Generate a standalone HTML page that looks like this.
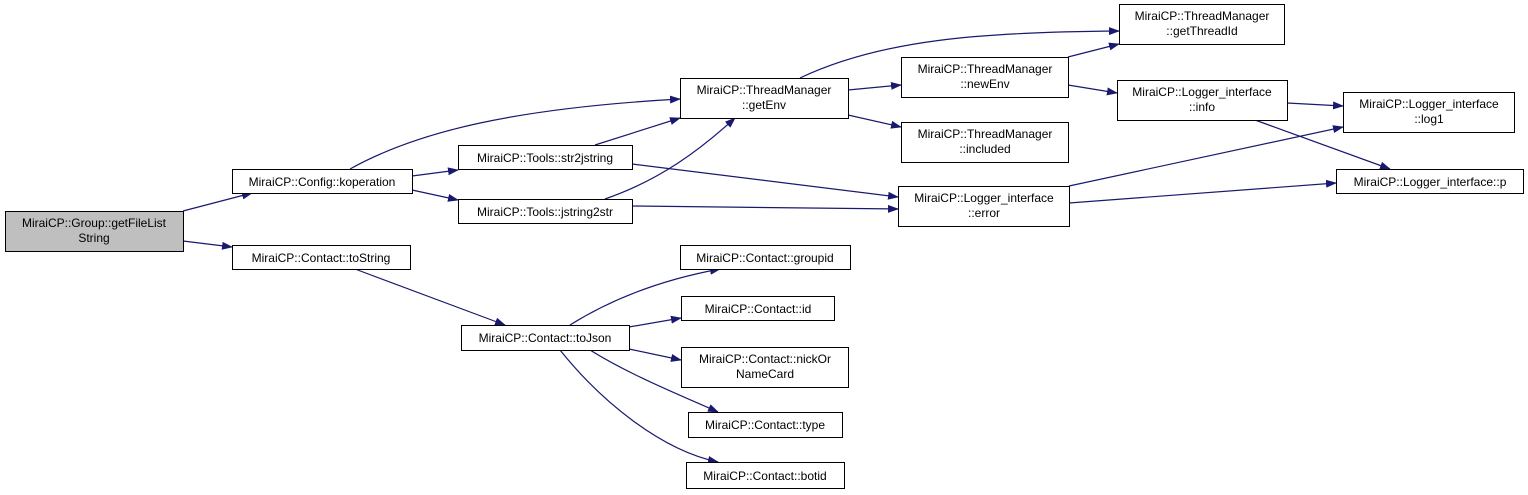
<!DOCTYPE html>
<html><head><meta charset="utf-8"><style>
html,body{margin:0;padding:0;background:#fff;}
svg{display:block;}
text{font-family:"Liberation Sans",Arial,sans-serif;font-size:12px;fill:#000;}
</style></head><body>
<svg width="1528" height="495" viewBox="0 0 1528 495" xmlns="http://www.w3.org/2000/svg">
<defs>
<marker id="a" markerWidth="11" markerHeight="8" refX="10" refY="4" orient="auto" markerUnits="userSpaceOnUse">
<polygon points="0,0 11,4 0,8" fill="#191970"/>
</marker>
</defs>
<g fill="none" stroke="#191970" stroke-width="1.2" marker-end="url(#a)">
<path d="M183,211 L252,193"/>
<path d="M183,241 L232,247"/>
<path d="M412,176 L458,170"/>
<path d="M412,190 L458,200"/>
<path d="M350,169 C420,130 520,108 680,99"/>
<path d="M595,145 L680,118"/>
<path d="M605,199 C660,180 700,150 735,118"/>
<path d="M632,164 L898,197"/>
<path d="M632,206 L898,209"/>
<path d="M848,90 L901,85"/>
<path d="M848,115 L901,127"/>
<path d="M800,78 C880,40 980,32 1119,31"/>
<path d="M1068,57 L1119,44"/>
<path d="M1068,85 L1117,93"/>
<path d="M1287,103 L1343,106"/>
<path d="M1255,120 L1390,169"/>
<path d="M1069,186 L1343,127"/>
<path d="M1069,203 L1336,183"/>
<path d="M355,269 L505,325"/>
<path d="M570,325 C610,300 660,280 720,269"/>
<path d="M629,327 L681,318"/>
<path d="M629,349 L681,360"/>
<path d="M590,350 C630,375 680,395 718,412"/>
<path d="M560,350 C600,400 660,450 718,462"/>
</g>
<g stroke="#000" stroke-width="1" fill="#fff">
<rect x="5.5" y="211.5" width="178" height="40" fill="#bfbfbf"/>
<rect x="232.5" y="169.5" width="180" height="24"/>
<rect x="232.5" y="245.5" width="178" height="24"/>
<rect x="458.5" y="145.5" width="174" height="24"/>
<rect x="458.5" y="199.5" width="174" height="24"/>
<rect x="680.5" y="78.5" width="168" height="40"/>
<rect x="461.5" y="325.5" width="168" height="25"/>
<rect x="1119.5" y="4.5" width="165" height="40"/>
<rect x="901.5" y="57.5" width="167" height="40"/>
<rect x="901.5" y="122.5" width="167" height="40"/>
<rect x="1117.5" y="80.5" width="170" height="40"/>
<rect x="898.5" y="186.5" width="171" height="40"/>
<rect x="1343.5" y="92.5" width="171" height="40"/>
<rect x="1336.5" y="169.5" width="187" height="24"/>
<rect x="680.5" y="245.5" width="170" height="24"/>
<rect x="681.5" y="296.5" width="153" height="24"/>
<rect x="681.5" y="347.5" width="167" height="40"/>
<rect x="688.5" y="412.5" width="154" height="25"/>
<rect x="686.5" y="462.5" width="158" height="26"/>
</g>
<g text-anchor="middle">
<text x="94" y="227">MiraiCP::Group::getFileList</text>
<text x="94" y="242">String</text>
<text x="322" y="186">MiraiCP::Config::koperation</text>
<text x="321" y="262">MiraiCP::Contact::toString</text>
<text x="545" y="162">MiraiCP::Tools::str2jstring</text>
<text x="545" y="216">MiraiCP::Tools::jstring2str</text>
<text x="764" y="94">MiraiCP::ThreadManager</text>
<text x="764" y="109">::getEnv</text>
<text x="545" y="342">MiraiCP::Contact::toJson</text>
<text x="1202" y="20">MiraiCP::ThreadManager</text>
<text x="1202" y="35">::getThreadId</text>
<text x="985" y="73">MiraiCP::ThreadManager</text>
<text x="985" y="88">::newEnv</text>
<text x="985" y="138">MiraiCP::ThreadManager</text>
<text x="985" y="153">::included</text>
<text x="1202" y="96">MiraiCP::Logger_interface</text>
<text x="1202" y="111">::info</text>
<text x="984" y="202">MiraiCP::Logger_interface</text>
<text x="984" y="217">::error</text>
<text x="1429" y="108">MiraiCP::Logger_interface</text>
<text x="1429" y="123">::log1</text>
<text x="1430" y="186">MiraiCP::Logger_interface::p</text>
<text x="765" y="262">MiraiCP::Contact::groupid</text>
<text x="758" y="313">MiraiCP::Contact::id</text>
<text x="765" y="363">MiraiCP::Contact::nickOr</text>
<text x="765" y="378">NameCard</text>
<text x="765" y="429">MiraiCP::Contact::type</text>
<text x="765" y="480">MiraiCP::Contact::botid</text>
</g>
</svg>
</body></html>
